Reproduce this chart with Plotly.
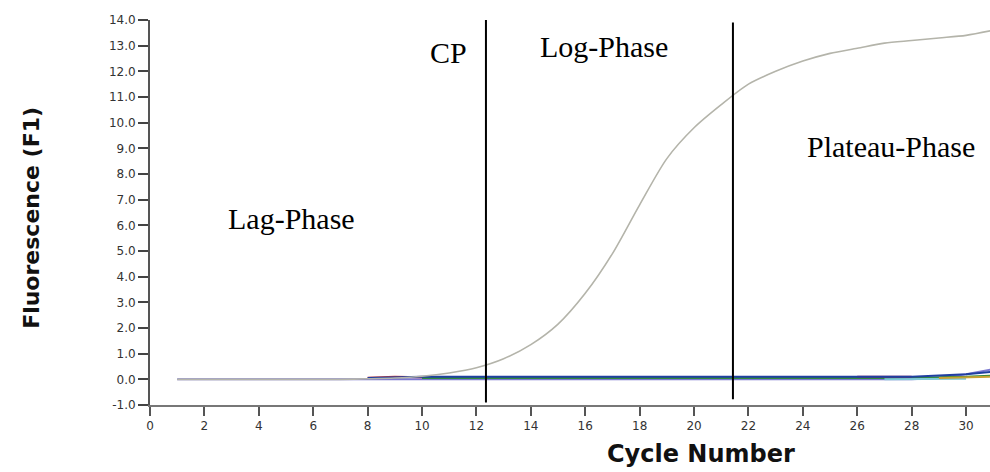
import plotly.graph_objects as go

# ---- data ----
cycles = list(range(1, 32))
sample_curve = [0.0, 0.0, 0.0, 0.0, 0.0, 0.0, 0.0, 0.02, 0.05, 0.12, 0.25, 0.45, 0.8, 1.35,
                2.15, 3.35, 4.9, 6.8, 8.6, 9.8, 10.7, 11.5, 12.0, 12.4, 12.7, 12.9, 13.1,
                13.2, 13.3, 13.4, 13.6]
base_purple = [0.0] * 28 + [0.05, 0.2, 0.4]
base_navy = [None] * 7 + [0.05, 0.08] + [0.1] * 19 + [0.15, 0.2, 0.3]
base_green = [None] * 9 + [0.05] * 19 + [0.08, 0.1, 0.15]
base_red = [None] * 7 + [0.06, 0.1, 0.08] + [None] * 21
base_maroon = [None] * 25 + [0.1, 0.1, 0.1] + [None] * 3
base_cyan = [None] * 26 + [0.0, 0.0, 0.0, 0.02] + [None]
base_yellow = [None] * 28 + [0.05, 0.08, 0.1]

baseline_series = [
    (base_purple, "#7b78d0"),
    (base_green, "#2f8a3c"),
    (base_red, "#d03a30"),
    (base_maroon, "#9a2060"),
    (base_cyan, "#7fc8d8"),
    (base_yellow, "#c8a030"),
    (base_navy, "#1f3fa0"),
]

x_ticks = list(range(0, 31, 2))
y_ticks = [-1.0, 0.0, 1.0, 2.0, 3.0, 4.0, 5.0, 6.0, 7.0, 8.0, 9.0, 10.0, 11.0, 12.0, 13.0, 14.0]

phase_lines_x = [12.35, 21.43]
phase_lines_y0 = [-0.9, -0.78]
phase_lines_y1 = [14.08, 13.9]

phase_labels = ["CP", "Log-Phase", "Plateau-Phase", "Lag-Phase"]
phase_label_x = [10.96, 16.7, 27.24, 5.22]
phase_label_y = [12.72, 12.96, 9.07, 6.26]

fig = go.Figure()

for vals, col in baseline_series:
    fig.add_trace(go.Scatter(x=cycles, y=vals, mode="lines",
                             line=dict(color=col, width=2), showlegend=False,
                             connectgaps=False, hoverinfo="skip"))

fig.add_trace(go.Scatter(x=cycles, y=sample_curve, mode="lines",
                         line=dict(color="#b4b4aa", width=1.6, shape="spline", smoothing=0.8),
                         showlegend=False))

for x, y0, y1 in zip(phase_lines_x, phase_lines_y0, phase_lines_y1):
    fig.add_shape(type="line", xref="x", yref="y", x0=x, x1=x, y0=y0, y1=y1,
                  line=dict(color="black", width=2))

for t, x, y in zip(phase_labels, phase_label_x, phase_label_y):
    fig.add_annotation(x=x, y=y, xref="x", yref="y", text=t, showarrow=False,
                       font=dict(family="Liberation Serif", size=30, color="black"))

fig.add_annotation(x=0.656, y=-0.127, xref="paper", yref="paper", text="<b>Cycle Number</b>",
                   showarrow=False, xanchor="center", yanchor="middle",
                   font=dict(family="DejaVu Sans", size=24, color="#111"))
fig.add_annotation(x=-0.1405, y=0.486, xref="paper", yref="paper", text="<b>Fluorescence (F1)</b>",
                   showarrow=False, textangle=-90, xanchor="center", yanchor="middle",
                   font=dict(family="DejaVu Sans", size=22, color="#111"))

fig.update_layout(
    width=990, height=472,
    margin=dict(l=150, r=0, t=20, b=67),
    paper_bgcolor="white", plot_bgcolor="white",
    xaxis=dict(range=[0, 30.88], tickvals=x_ticks, ticktext=[str(v) for v in x_ticks],
               showgrid=False, zeroline=False, showline=True, linecolor="#777",
               linewidth=2, ticks="outside", ticklen=9, tickcolor="#555", tickwidth=1.5,
               tickfont=dict(family="DejaVu Sans", size=12, color="#333")),
    yaxis=dict(range=[-1, 14], tickvals=y_ticks, ticktext=[f"{v:.1f}" for v in y_ticks],
               showgrid=False, zeroline=False, showline=True, linecolor="#555",
               linewidth=2, ticks="outside", ticklen=10, tickcolor="#444", tickwidth=1.5,
               tickfont=dict(family="DejaVu Sans", size=12, color="#333")),
)

fig.write_html("out.html")
